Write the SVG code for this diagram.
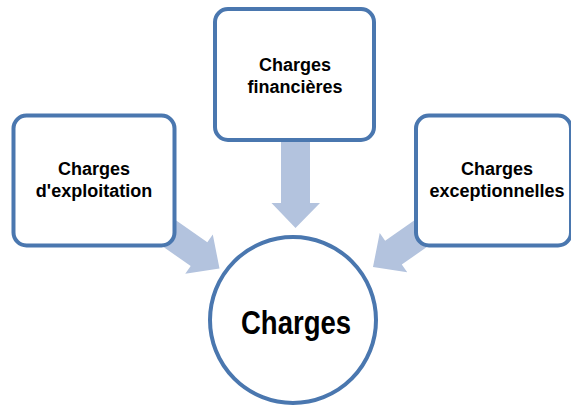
<svg xmlns="http://www.w3.org/2000/svg" width="571" height="407" viewBox="0 0 571 407">
<style>
.box{fill:#fff;stroke:#4a77af;stroke-width:4}
.arrow{fill:#b3c3de}
.t{font-family:"Liberation Sans",Arial,sans-serif;font-weight:bold;font-size:18px;fill:#000;text-anchor:middle}
.big{font-size:34px}
</style>
<rect width="571" height="407" fill="#fff"/>
<g id="connectors">
<polygon class="arrow" points="281,140 310,140 310,203 320,203 295.5,228 271.5,203 281,203"/>
<g transform="translate(219.5,268.5) rotate(35)">
<polygon class="arrow" points="0,0 -25,24 -25,14.5 -90,14.5 -90,-14.5 -25,-14.5 -25,-24"/>
</g>
<g transform="translate(373,267) rotate(145)">
<polygon class="arrow" points="0,0 -25,24 -25,14.5 -90,14.5 -90,-14.5 -25,-14.5 -25,-24"/>
</g>
</g>
<g id="node-exploitation">
<rect class="box" x="13.5" y="115.5" width="161" height="130" rx="13"/>
<text class="t" x="94" y="175">Charges</text>
<text class="t" x="94" y="197">d'exploitation</text>
</g>
<g id="node-financieres">
<rect class="box" x="215" y="9" width="159" height="131" rx="13"/>
<text class="t" x="295" y="71">Charges</text>
<text class="t" x="295" y="93">financières</text>
</g>
<g id="node-exceptionnelles">
<rect class="box" x="416" y="115.5" width="155" height="130" rx="13"/>
<text class="t" x="497" y="175">Charges</text>
<text class="t" x="497" y="197">exceptionnelles</text>
</g>
<g id="node-charges">
<circle class="box" cx="293" cy="320" r="83"/>
<text class="t big" x="296" y="334" textLength="110" lengthAdjust="spacingAndGlyphs">Charges</text>
</g>
</svg>
